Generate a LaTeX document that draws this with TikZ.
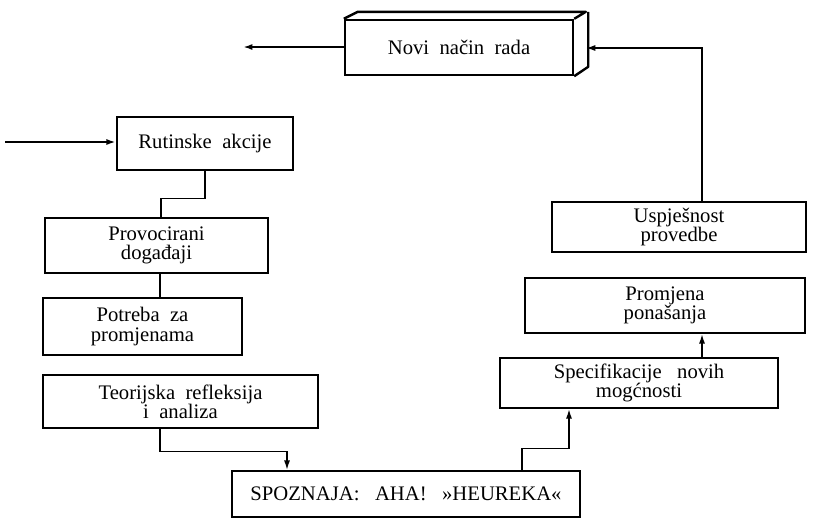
\documentclass[tikz,border=0pt]{standalone}
\usepackage{fontspec}
\setmainfont{Liberation Serif}
\usetikzlibrary{arrows.meta,calc}
\tikzset{
  box/.style={draw, line width=1.8pt, inner sep=0pt, align=center,
    font=\fontsize{15.5}{14.5}\selectfont},
  conn/.style={line width=1pt},
  arr/.style={line width=1pt, -{Latex[length=7pt,width=4.5pt]}},
}
\begin{document}
\begin{tikzpicture}[x=0.75pt,y=-0.75pt]
\useasboundingbox (0,0) rectangle (823,519);
% 3D box Novi nacin rada
\node[box, minimum width=228*0.75pt, minimum height=55*0.75pt] (nv) at (459,47.5) {Novi\ \ način\ \ rada};
\draw[line width=1.8pt, line join=round] (nv.north west) -- ++(14,-7) -- ++(228,0) -- (nv.north east);
\draw[line width=1.8pt, line join=round] ($(nv.north east)+(14,-7)$) -- ++(0,55) -- (nv.south east);
% nodes
\node[box, minimum width=176*0.75pt, minimum height=53*0.75pt] (ru) at (205,143.5) {Rutinske\ \ akcije};
\node[box, minimum width=223*0.75pt, minimum height=55*0.75pt] (pv) at (156.5,245.5) {Provocirani\\događaji};
\node[box, minimum width=199*0.75pt, minimum height=57*0.75pt] (pt) at (142.5,326.5) {Potreba\ \ za\\promjenama};
\node[box, minimum width=275*0.75pt, minimum height=53*0.75pt] (te) at (180.5,401.5) {Teorijska\ \ refleksija\\i\ \ analiza};
\node[box, minimum width=348*0.75pt, minimum height=46*0.75pt] (sp) at (406,494) {SPOZNAJA:\ \ \ AHA!\ \ \ »HEUREKA«};
\node[box, minimum width=278*0.75pt, minimum height=50*0.75pt] (sf) at (639,383) {Specifikacije\ \ \ novih\\mogćnosti};
\node[box, minimum width=280*0.75pt, minimum height=55*0.75pt] (pr) at (665,305.5) {Promjena\\ponašanja};
\node[box, minimum width=254*0.75pt, minimum height=50*0.75pt] (us) at (679,227) {Uspješnost\\provedbe};
% helper coordinates
\coordinate (in) at (5,142);
\coordinate (out) at (243,47);
\coordinate (x160) at (160,0);
\coordinate (x161) at (161,0);
\coordinate (x287) at (287,0);
\coordinate (x522) at (522,0);
\coordinate (x569) at (569,0);
\coordinate (x702) at (702,0);
\coordinate (side) at (586,48);
% connectors
\draw[arr, line width=1.6pt] (in) -- (ru.west |- in);
\draw[arr, line width=1.4pt] (nv.west |- out) -- (out);
\draw[conn] (ru.south) -- ++(0,27) -| (pv.north -| x161);
\draw[conn] (pv.south -| x160) -- (pt.north -| x160);
\draw[arr] (te.south -| x160) -- ++(0,22) -| (sp.north -| x287);
\draw[arr] (sp.north -| x522) -- ++(0,-21) -| (sf.south -| x569);
\draw[arr] (sf.north -| x702) -- (pr.south -| x702);
\draw[arr] (us.north -| x702) |- (side);
\end{tikzpicture}
\end{document}
